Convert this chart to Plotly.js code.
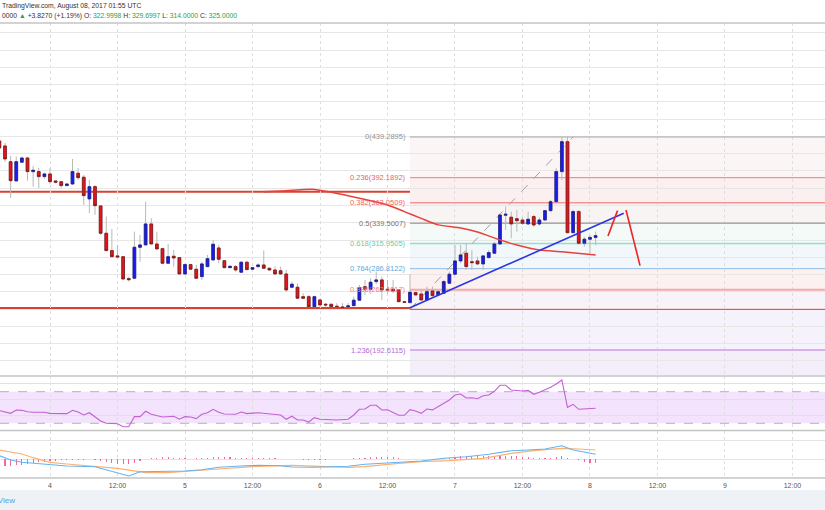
<!DOCTYPE html>
<html><head><meta charset="utf-8">
<script src="https://cdn.plot.ly/plotly-3.0.1.min.js"></script>
<style>html,body{margin:0;padding:0;background:#fff;overflow:hidden}#chart{width:825px;height:510px}</style>
</head><body><div id="chart"></div>
<script>
// ---- data (hourly candles, hour 0 = Aug 4 00:00 UTC) ----
const candleStartHour = -9;
const opens  = [434.7,428.9,410.7,388.4,410.1,415.0,399.2,399.2,393.4,396.5,388.4,387.6,383.0,384.9,397.3,392.7,367.6,381.8,359.5,327.8,307.7,301.6,300.7,275.3,275.7,311.6,314.3,338.6,315.4,310.0,293.1,301.2,299.6,280.7,291.5,286.2,277.6,289.2,296.9,310.8,296.1,288.0,289.2,282.7,294.3,286.2,289.2,291.1,287.3,285.3,284.5,280.7,265.3,265.3,254.4,254.4,242.8,250.6,245.6,245.6,243.3,242.5,242.5,244.0,250.3,266.0,263.0,271.8,273.8,263.0,263.0,262.2,248.6,247.5,259.1,257.5,250.6,261.0,256.4,258.4,269.9,280.4,295.8,304.7,294.9,295.8,292.3,299.6,304.7,315.4,348.7,346.4,344.7,343.2,338.6,347.1,338.6,343.2,354.0,364.4,399.2,433.9,328.5,352.9,316.3,320.9,323.0];
const highs  = [438.2,432.4,417.4,416.5,416.5,416.5,405.8,403.5,398.0,403.5,389.5,388.0,385.5,413.9,403.5,395.3,389.6,383.7,359.5,347.1,332.8,314.3,301.0,277.6,329.7,325.9,364.4,345.2,329.7,311.0,315.4,308.5,300.5,293.1,292.0,291.1,294.9,302.7,320.1,314.3,296.5,290.0,291.1,295.0,295.8,288.5,293.1,308.0,287.8,289.2,289.2,285.3,271.8,269.9,258.4,256.4,255.6,252.6,246.8,246.0,246.8,246.8,246.8,254.4,268.0,273.8,275.7,283.4,277.6,273.8,273.8,262.5,249.0,280.4,260.0,262.2,266.0,266.0,262.2,273.8,283.4,314.3,314.3,316.3,308.5,300.7,302.7,308.5,318.2,351.0,358.6,352.9,354.8,346.4,352.9,349.0,346.4,354.8,366.4,403.1,439.3,439.3,354.8,354.8,323.6,325.9,329.7];
const lows   = [424.3,410.4,368.7,388.4,410.1,388.7,381.8,380.3,391.0,384.9,385.5,380.3,382.5,383.7,389.6,360.6,351.3,349.0,325.9,307.7,300.7,300.0,273.8,271.8,275.7,294.9,314.3,315.4,308.5,293.1,293.1,289.2,280.7,280.7,285.5,275.7,273.8,288.5,296.1,293.1,287.3,287.5,283.4,282.0,285.3,285.8,287.3,286.8,284.8,280.0,279.5,260.2,264.2,252.6,251.8,242.8,242.8,242.8,242.8,242.5,241.7,241.0,242.0,244.0,249.4,256.4,260.2,268.8,250.6,258.4,258.4,247.9,247.2,246.8,255.5,249.8,249.8,254.4,255.6,258.4,269.0,279.6,293.1,285.3,285.3,291.1,285.3,298.9,303.9,314.3,331.7,322.0,329.7,337.4,337.4,335.5,336.6,342.4,352.9,363.3,389.6,327.8,327.8,314.3,312.3,304.7,314.0];
const closes = [426.6,413.9,388.7,410.7,415.0,399.2,400.8,393.4,396.5,387.6,386.9,383.0,384.9,399.2,392.2,371.4,381.8,359.8,327.8,307.7,300.7,300.4,274.9,274.1,311.6,314.3,338.6,315.4,309.7,293.1,300.7,299.2,280.7,291.5,286.2,275.7,292.3,298.4,315.1,297.7,288.0,289.6,285.3,294.3,285.7,288.0,291.1,287.3,285.3,280.7,280.7,262.2,268.8,252.6,252.6,242.8,254.4,244.8,244.8,242.8,242.5,241.7,243.7,250.3,264.8,263.0,271.1,273.8,262.2,261.8,261.0,248.6,247.9,259.5,256.4,250.6,260.2,255.6,260.2,271.8,280.4,295.8,302.7,289.2,293.8,292.3,301.6,305.4,315.4,349.0,349.8,338.6,342.4,339.4,344.0,337.4,343.2,354.0,364.4,399.2,433.9,328.5,352.9,316.3,320.9,323.0,325.0];

const maHours  = [38,41,47,50,55,60,63,66,69,73,76,80,83,87,91,97];
const maValues = [376.0,376.8,378.6,375.3,368.4,360.6,352.9,345.0,337.5,334.0,329.3,320.1,314.3,308.5,306.5,302.7];

const trendHours = [64,102];
const trendValues = [241.6,351.0];
const arrowAHours = [99.2,100.9];
const arrowAValues = [324.7,354.0];
const arrowBHours = [102.4,104.9];
const arrowBValues = [354.8,290.3];

const resistanceLevel = 375.9;
const supportLevel = 241.0;

const fibStartHour = 64;
const fibHighHour = 93;
const fibRatios = [0,0.236,0.382,0.5,0.618,0.764,0.886,1,1.236];
const fibPrices = [439.2895,392.1892,363.0509,339.5007,315.9505,286.8122,262.4617,239.7115,192.6115];
const fibShowLabel = [true,true,true,true,true,true,true,false,true];

const rsiHours  = [-9,-7,-6,-5,-4,-3,-1,0,3,4,5,6,7,8,9,10,12,13,14,15,16,17,18,20,22,23,24,25,26,27,28,29,30,31,33,34,35,37,40,41,42,43,44,45,46,47,48,49,51,53,54,55,56,57,58,59,60,62,63,64,65,66,67,68,70,71,72,73,74,75,76,77,78,79,80,81,82,83,84,85,86,87,88,89,90,91,92,93,94,97];
const rsiValues = [46.0,42.6,46.8,46.4,44.7,43.9,43.9,42.6,42.2,46.4,44.3,40.5,43.4,38.4,32.9,30.0,29.5,25.7,25.7,38.4,38.4,45.2,41.4,38.0,38.9,35.1,38.4,38.0,35.9,41.4,43.4,47.7,43.9,41.8,41.4,44.3,42.2,43.4,40.9,40.5,35.1,38.9,34.2,34.2,31.6,37.1,35.1,34.6,34.2,35.1,40.5,47.7,48.1,52.8,52.8,46.8,47.2,40.1,40.1,47.2,45.6,42.6,48.1,47.0,55.3,59.5,65.8,67.1,62.0,62.4,61.1,64.9,65.8,70.5,78.1,78.1,72.2,71.3,70.9,71.8,66.7,69.2,72.2,75.6,79.7,84.8,50.2,54.0,47.7,49.0];

const macdHours  = [-9,-7,-5,-3,0,3,8,11,14,16,20,24,27,30,34,37,41,43,47,50,53,56,60,62,66,70,74,78,82,85,88,91,93,97];
const macdValues = [3.3,-1,-3.3,-4.3,-6,-7,-7.7,-12,-17,-12.7,-12,-12,-10.7,-8.3,-7,-6.3,-6.7,-8,-8.3,-8,-7.3,-5.3,-3.7,-3.3,-2,0.7,2.3,4.7,8.3,9,10,13.3,9,4.7];
const signalHours  = [-9,-5,-3,0,3,8,12,17,21,25,31,37,43,48,53,56,60,62,66,71,77,82,86,91,94,97];
const signalValues = [9,5,1.3,-3.3,-5,-7.7,-9.3,-13.7,-13.7,-12,-9.3,-7.3,-6.3,-7,-8.3,-7.7,-5.3,-4.3,-2.7,-1.7,0.7,5.7,8.3,10.7,10,9];
const histStartHour = -8;
const histValues = [-6.7,-7.0,-6.3,-5.7,-5.0,-4.0,-3.3,-2.7,-2.3,-1.7,-1.3,-1.0,-1.0,-0.7,-0.7,-0.3,-1.0,-1.7,-2.7,-3.7,-4.7,-5.3,-5.0,-4.0,-2.0,-0.3,1.0,1.3,1.7,1.7,1.3,0.7,0.7,0.3,0.7,1.0,1.3,2.0,2.0,1.7,1.7,1.3,1.3,1.3,1.0,0.7,0.7,0.7,0.7,0.3,0,0,-0.3,-0.7,-1.0,-1.0,-1.0,-0.7,-0.3,0,0,0.3,0.7,1.0,1.3,1.7,2.0,2.0,1.7,1.7,1.3,0,0,0.3,0.3,0.3,0.3,0.3,0.7,1.3,2.0,3.0,2.7,2.7,2.7,2.7,3.0,2.7,3.3,3.3,3.0,2.7,2.0,1.7,1.3,1.0,1.0,1.3,1.7,3.0,0.7,0,-1.3,-2.7,-4.0,-4.0];

const tickHours = [0,12,24,36,48,60,72,84,96,108,120,132];
const tickLabels = ["4","12:00","5","12:00","6","12:00","7","12:00","8","12:00","9","12:00"];

// ---- build ----
const W = 825, H = 510;
const py = p => 1 - p / H;
const candleHours = opens.map((_, i) => candleStartHour + i);
const histHours = histValues.map((_, i) => histStartHour + i);
const bodyHigh = opens.map((o, i) => Math.max(o, closes[i]));
const bodyLow = opens.map((o, i) => Math.min(o, closes[i]));

const FONT = 'Liberation Sans, Arial, sans-serif';
const traces = [
  {type:'candlestick', x:candleHours, open:opens, high:highs, low:lows, close:closes,
   increasing:{line:{color:'#b9b9b9',width:1}, fillcolor:'#1c1cf0'},
   decreasing:{line:{color:'#b9b9b9',width:1}, fillcolor:'#e8141b'},
   whiskerwidth:0, hoverinfo:'skip', showlegend:false, xaxis:'x', yaxis:'y'},
  {type:'candlestick', x:candleHours, open:opens, high:bodyHigh, low:bodyLow, close:closes,
   increasing:{line:{color:'#20208a',width:0.8}, fillcolor:'#1c1cf0'},
   decreasing:{line:{color:'#7a1a1a',width:0.8}, fillcolor:'#e8141b'},
   whiskerwidth:0, hoverinfo:'skip', showlegend:false, xaxis:'x', yaxis:'y'},
  {type:'scatter', mode:'lines', x:maHours, y:maValues, line:{color:'#e8403a',width:1.5,shape:'spline',smoothing:0.6}, hoverinfo:'skip', showlegend:false},
  {type:'scatter', mode:'lines', x:trendHours, y:trendValues, line:{color:'#2a36e0',width:1.6}, hoverinfo:'skip', showlegend:false},
  {type:'scatter', mode:'lines', x:arrowAHours, y:arrowAValues, line:{color:'#ee2428',width:1.6}, hoverinfo:'skip', showlegend:false},
  {type:'scatter', mode:'lines', x:arrowBHours, y:arrowBValues, line:{color:'#ee2428',width:1.6}, hoverinfo:'skip', showlegend:false},
  {type:'scatter', mode:'lines', x:rsiHours, y:rsiValues, line:{color:'#c262d2',width:1.1}, hoverinfo:'skip', showlegend:false, xaxis:'x', yaxis:'y2'},
  {type:'bar', x:histHours, y:histValues, width:0.22, marker:{color:'#f2679c'}, hoverinfo:'skip', showlegend:false, xaxis:'x', yaxis:'y3'},
  {type:'scatter', mode:'lines', x:signalHours, y:signalValues, line:{color:'#ffb070',width:1.2}, hoverinfo:'skip', showlegend:false, xaxis:'x', yaxis:'y3'},
  {type:'scatter', mode:'lines', x:macdHours, y:macdValues, line:{color:'#62b4f2',width:1.1}, hoverinfo:'skip', showlegend:false, xaxis:'x', yaxis:'y3'}
];

const fibFill = ['#fcf5f5','#fcefef','#f8f4f4','#f3faf8','#f2f7fb','#fdf0f1','#f8f3f8','#f6f2fb','#f3eef9'];
const fibLine = ['#a8a8a8','#e88080','#ef6a6a','#8e7e7e','#8fe0c6','#8cbde3','#f5a9a9','#d8432f','#cf9be9'];
const fibLineW = [1,1,1,1,1.5,1,2,1,1.5];
const fibText = ['#939393','#e06666','#f06464','#86716f','#62cfa0','#5ea9dc','#f27b7b','#e05a48','#b56ad8'];
const RIGHT = 150;
const shapes = [];
for (let i = 0; i < fibPrices.length; i++) {
  const top = fibPrices[i];
  const bot = i + 1 < fibPrices.length ? fibPrices[i+1] : 150;
  shapes.push({type:'rect', xref:'x', yref:'y', x0:fibStartHour, x1:RIGHT, y0:bot, y1:top, fillcolor:fibFill[i], line:{width:0}, layer:'below'});
}
for (let i = 0; i < fibPrices.length; i++) {
  shapes.push({type:'line', xref:'x', yref:'y', x0:fibStartHour, x1:RIGHT, y0:fibPrices[i], y1:fibPrices[i], line:{color:fibLine[i],width:fibLineW[i]}, layer:'between'});
}
[resistanceLevel, supportLevel].forEach(v => shapes.push({type:'line', xref:'paper', yref:'y', x0:0, x1:1, y0:v, y1:v, line:{color:'#d8432f',width:2.2}, layer:'between'}));
shapes.push({type:'line', xref:'x', yref:'y', x0:fibStartHour, y0:fibPrices[7], x1:fibHighHour, y1:fibPrices[0], line:{color:'#a0a0a0',width:1,dash:'dash'}, layer:'between'});
shapes.push({type:'rect', xref:'paper', yref:'y2', x0:0, x1:1, y0:30, y1:70, fillcolor:'#f3e3fc', line:{width:0}, layer:'below'});
[30,70].forEach(v => shapes.push({type:'line', xref:'paper', yref:'y2', x0:0, x1:1, y0:v, y1:v, line:{color:'#b5b0b8',width:1,dash:'dash'}, layer:'between'}));
[23, 376, 430.5, 478].forEach(p => shapes.push({type:'line', xref:'paper', yref:'paper', x0:0, x1:1, y0:py(p), y1:py(p), line:{color:'#c4c4c4',width:1.5}}));
shapes.push({type:'rect', xref:'paper', yref:'paper', x0:0, x1:1, y0:0, y1:py(490), fillcolor:'#eef1f5', line:{width:0}, layer:'below'});

const annotations = [];
for (let i = 0; i < fibPrices.length; i++) {
  if (!fibShowLabel[i]) continue;
  annotations.push({xref:'x', yref:'y', x:fibStartHour, y:fibPrices[i], xanchor:'right', yanchor:'middle', xshift:-2,
    text: fibRatios[i] + '(' + fibPrices[i].toFixed(4) + ')', showarrow:false, font:{family:FONT,size:7.5,color:fibText[i]}});
}
const G = '#2ba33a';
annotations.push({xref:'paper', yref:'paper', x:0, y:py(6), xanchor:'left', yanchor:'middle', showarrow:false,
  text:'TradingView.com, August 08, 2017 01:55 UTC', font:{family:FONT,size:6.8,color:'#333'}});
annotations.push({xref:'paper', yref:'paper', x:0, y:py(16), xanchor:'left', yanchor:'middle', showarrow:false,
  text:'0000 <span style="color:'+G+'">▲</span> +3.8270 (+1.19%) O: <span style="color:'+G+'">322.9998</span> H: <span style="color:'+G+'">329.6997</span> L: <span style="color:'+G+'">314.0000</span> C: <span style="color:'+G+'">325.0000</span>',
  font:{family:FONT,size:6.8,color:'#333'}});
annotations.push({xref:'paper', yref:'paper', x:17/W, y:py(500), xanchor:'right', yanchor:'middle', showarrow:false,
  text:'TradingView', font:{family:FONT,size:8,color:'#4fa6e4'}});

const layout = {
  width:W, height:H, margin:{l:0,r:0,t:0,b:0}, paper_bgcolor:'#fff', plot_bgcolor:'rgba(0,0,0,0)',
  showlegend:false, hovermode:false, bargap:0,
  xaxis:{domain:[0,1], range:[-8.889,137.78], anchor:'y3', tickmode:'array', tickvals:tickHours, ticktext:tickLabels,
    showgrid:true, gridcolor:'#dedede', griddash:'dot', zeroline:false, showline:false, ticks:'', ticklabelstandoff:2,
    tickfont:{family:FONT,size:7,color:'#555'}, rangeslider:{visible:false}, fixedrange:true},
  yaxis:{domain:[py(375),py(23)], range:[163.66,571.3], tickmode:'array', tickvals:[180,200,220,240,260,280,300,320,340,360,380,400,420,440,460,480,500,520,540,560],
    showgrid:true, gridcolor:'#e7e7e7', zeroline:false, showticklabels:false, ticks:'', fixedrange:true},
  yaxis2:{domain:[py(430),py(376)], range:[21.5,89.87], tickmode:'array', tickvals:[40,60,80], showgrid:true, gridcolor:'#e3dde6',
    zeroline:false, showticklabels:false, ticks:'', fixedrange:true},
  yaxis3:{domain:[py(478),py(431)], range:[-19,28], tickmode:'array', tickvals:[0,19], showgrid:true, gridcolor:'#e4e4e4',
    zeroline:false, showticklabels:false, ticks:'', fixedrange:true},
  shapes:shapes, annotations:annotations
};
Plotly.newPlot('chart', traces, layout, {staticPlot:true, displayModeBar:false});
</script></body></html>
